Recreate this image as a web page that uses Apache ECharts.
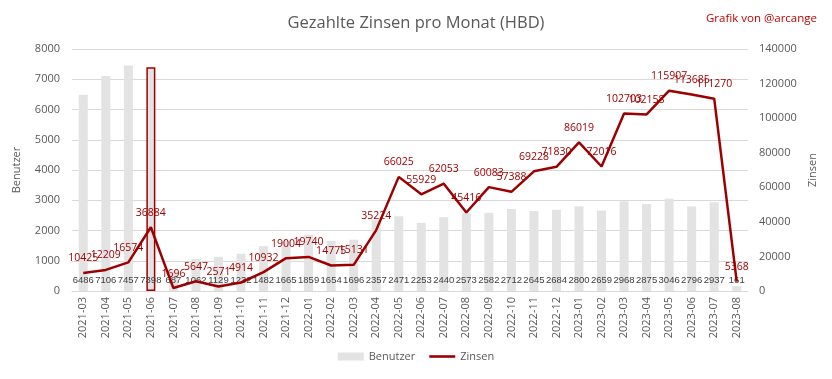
<!DOCTYPE html>
<html><head><meta charset="utf-8">
<script src="https://cdn.jsdelivr.net/npm/echarts@6/dist/echarts.min.js"></script>
<style>html,body{margin:0;padding:0;background:#fff}#c{width:832px;height:379px}</style>
</head><body><div id="c"></div>
<script>
const categories = ["2021-03","2021-04","2021-05","2021-06","2021-07","2021-08","2021-09","2021-10","2021-11","2021-12","2022-01","2022-02","2022-03","2022-04","2022-05","2022-06","2022-07","2022-08","2022-09","2022-10","2022-11","2022-12","2023-01","2023-02","2023-03","2023-04","2023-05","2023-06","2023-07","2023-08"];
const benutzer = [6486,7106,7457,7398,687,1062,1129,1232,1482,1665,1859,1654,1696,2357,2471,2253,2440,2573,2582,2712,2645,2684,2800,2659,2968,2875,3046,2796,2937,161];
const zinsen = [10425,12209,16574,36884,1696,5647,2571,4914,10932,19004,19740,14775,15131,35224,66025,55929,62053,45416,60083,57388,69228,71830,86019,72016,102703,102158,115907,113685,111270,5368];
const highlightIndex = 3;

const font = "'Open Sans', 'Liberation Sans', sans-serif";
const narrow = "'Liberation Sans', sans-serif";
const chart = echarts.init(document.getElementById('c'));
chart.setOption({
  animation: false,
  backgroundColor: '#fff',
  title: [
    {text: 'Gezahlte Zinsen pro Monat (HBD)', left: 'center', top: 10,
     textStyle: {fontFamily: font, fontSize: 16.5, fontWeight: 'normal', color: '#595959'}},
    {text: 'Grafik von @arcange', right: 10, top: 8,
     textStyle: {fontFamily: font, fontSize: 11.5, fontWeight: 'normal', color: '#c00000'}}
  ],
  grid: {left: 72, right: 84, top: 49, bottom: 88},
  legend: {
    bottom: 12, left: 'center', itemGap: 14,
    textStyle: {fontFamily: font, fontSize: 11, color: '#595959'},
    data: [
      {name: 'Benutzer', icon: 'rect', itemStyle: {color: '#e3e3e3', borderWidth: 0}},
      {name: 'Zinsen', icon: 'path://M0,0 L26,0 L26,2.6 L0,2.6 Z', itemStyle: {color: '#9c0000'}}
    ],
    itemWidth: 26, itemHeight: 8
  },
  xAxis: {
    type: 'category', data: categories,
    axisLine: {lineStyle: {color: '#d9d9d9'}},
    axisTick: {show: false},
    axisLabel: {rotate: 90, interval: 0, fontFamily: font, fontSize: 11, color: '#595959', margin: 6}
  },
  yAxis: [
    {type: 'value', min: 0, max: 8000, interval: 1000, name: 'Benutzer',
     nameLocation: 'middle', nameGap: 50, nameRotate: 90,
     nameTextStyle: {fontFamily: font, fontSize: 11, color: '#595959'},
     axisLabel: {fontFamily: font, fontSize: 11, color: '#595959', margin: 12, formatter: v => String(v)},
     splitLine: {lineStyle: {color: '#d9d9d9'}},
     axisLine: {show: false}, axisTick: {show: false}},
    {type: 'value', min: 0, max: 140000, interval: 20000, name: 'Zinsen',
     nameLocation: 'middle', nameGap: 58, nameRotate: 90,
     nameTextStyle: {fontFamily: font, fontSize: 11, color: '#595959'},
     axisLabel: {fontFamily: font, fontSize: 11, color: '#595959', margin: 11, formatter: v => String(v)},
     splitLine: {show: false}, axisLine: {show: false}, axisTick: {show: false}}
  ],
  series: [
    {name: 'Benutzer', type: 'bar', yAxisIndex: 0, barWidth: 9,
     data: benutzer.map((v, i) => i === highlightIndex ?
       {value: v, itemStyle: {color: '#e3e3e3', borderColor: '#a00000', borderWidth: 1.5}} : v),
     itemStyle: {color: '#e3e3e3'},
     label: {show: true, position: 'insideBottom', distance: 6,
       fontFamily: narrow, fontSize: 9.5, color: '#404040'}},
    {name: 'Zinsen', type: 'line', yAxisIndex: 1, data: zinsen,
     symbol: 'circle', symbolSize: 0, showSymbol: true, showAllSymbol: true,
     lineStyle: {color: '#9c0000', width: 2.5},
     itemStyle: {color: '#9c0000'},
     labelLayout: {hideOverlap: false},
     label: {show: true, position: 'top', distance: 9,
       fontFamily: font, fontSize: 10.5, color: '#a00000', formatter: p => String(p.value)}}
  ]
});
</script></body></html>
